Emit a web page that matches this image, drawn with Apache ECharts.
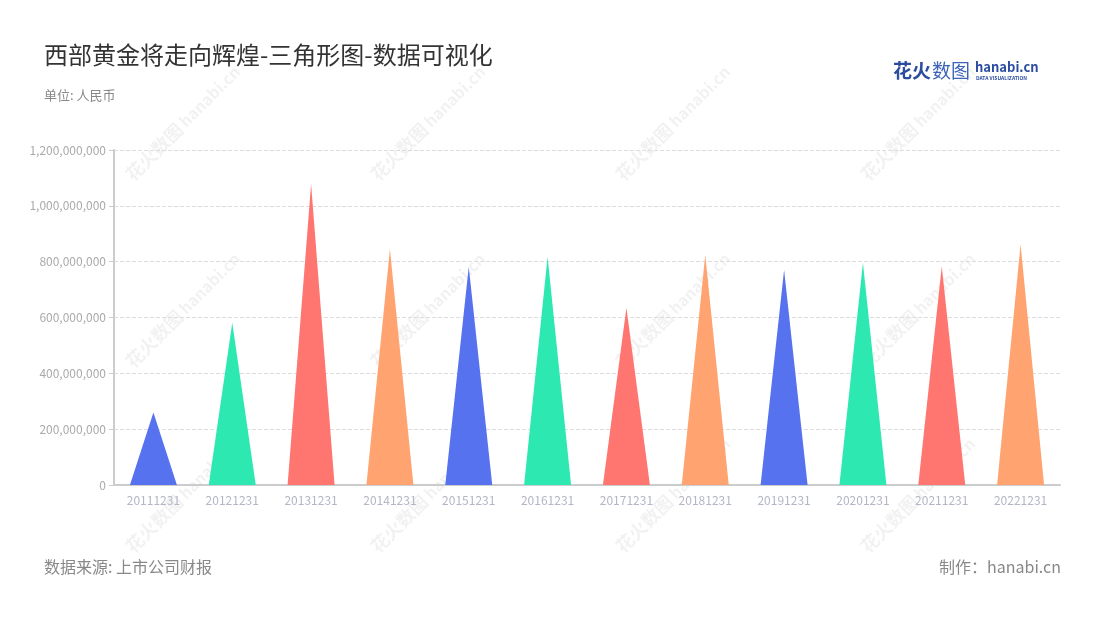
<!DOCTYPE html>
<html>
<head>
<meta charset="utf-8">
<script src="https://cdn.jsdelivr.net/npm/echarts@6/dist/echarts.min.js"></script>
<style>html,body{margin:0;padding:0;background:#fff;}#main{width:1100px;height:620px;}</style>
</head>
<body>
<div id="main"></div>
<script>
const categories = ['20111231','20121231','20131231','20141231','20151231','20161231','20171231','20181231','20191231','20201231','20211231','20221231'];
const values = [260000000, 581000000, 1078000000, 845000000, 782000000, 818000000, 635000000, 824000000, 770000000, 796000000, 784000000, 862000000];
const palette = ['#5672EE', '#2DE9B1', '#FF7671', '#FFA470'];
const yTicks = { min: 0, max: 1200000000, interval: 200000000 };

const FONT = '"Noto Sans CJK SC", "Noto Sans", sans-serif';
const chart = echarts.init(document.getElementById('main'));

const watermarks = [];
const wmX = [183, 428, 673, 918];
const wmY = [123, 310, 495];
wmY.forEach(function (y) {
  wmX.forEach(function (x) {
    watermarks.push({
      type: 'text', x: x, y: y, rotation: Math.PI / 4, z: 0, silent: true,
      style: {
        text: '{a|花火数图} {b|hanabi.cn}',
        align: 'center', verticalAlign: 'middle',
        rich: {
          a: { fontSize: 18, fontWeight: 'bold', fill: 'rgba(0,0,0,0.055)', fontFamily: FONT },
          b: { fontSize: 16, fontWeight: 'bold', fill: 'rgba(0,0,0,0.055)', fontFamily: FONT }
        }
      }
    });
  });
});

const option = {
  backgroundColor: '#fff',
  title: [
    { text: '西部黄金将走向辉煌-三角形图-数据可视化', left: 39, top: 38,
      textStyle: { fontSize: 24, fontWeight: 'normal', color: '#333', fontFamily: FONT } },
    { text: '单位: 人民币', left: 39, top: 84,
      textStyle: { fontSize: 13, fontWeight: 'normal', color: '#888', fontFamily: FONT } },
    { text: '数据来源: 上市公司财报', left: 39, top: 554,
      textStyle: { fontSize: 16, fontWeight: 'normal', color: '#888', fontFamily: FONT } },
    { text: '制作：hanabi.cn', right: 34, top: 554,
      textStyle: { fontSize: 16, fontWeight: 'normal', color: '#888', fontFamily: FONT } }
  ],
  graphic: watermarks.concat([
    { type: 'text', left: 893, top: 61, z: 10,
      style: { text: '花火', fontSize: 19, fontWeight: 'bold', fill: '#2B4C9F', fontFamily: FONT } },
    { type: 'text', left: 932, top: 61, z: 10,
      style: { text: '数图', fontSize: 19, fontWeight: 'normal', fill: '#3C63B8', fontFamily: FONT } },
    { type: 'text', left: 975, top: 61, z: 10,
      style: { text: 'hanabi.cn', fontSize: 13, fontWeight: 'bold', fill: '#2B4C9F', fontFamily: FONT } },
    { type: 'text', left: 976, top: 76, z: 10,
      style: { text: 'DATA VISUALIZATION', fontSize: 5, fontWeight: 'bold', fill: '#2B4C9F', fontFamily: FONT } }
  ]),
  grid: { left: 114, right: 40, top: 150, bottom: 135 },
  xAxis: {
    type: 'category',
    data: categories,
    axisLine: { lineStyle: { color: '#cccccc', width: 2 } },
    axisTick: { alignWithLabel: true, length: 5, lineStyle: { color: '#aaa' } },
    axisLabel: { color: '#b3b6c4', fontSize: 12, margin: 9, fontFamily: FONT }
  },
  yAxis: {
    type: 'value',
    min: yTicks.min, max: yTicks.max, interval: yTicks.interval,
    axisLine: { show: true, lineStyle: { color: '#cccccc', width: 2 } },
    axisTick: { show: true, length: 5, lineStyle: { color: '#cccccc' } },
    axisLabel: { color: '#aaaaaa', fontSize: 12, fontFamily: FONT,
      formatter: function (v) { return v.toLocaleString('en-US'); } },
    splitLine: { lineStyle: { type: 'dashed', color: '#dddddd' } }
  },
  series: [{
    type: 'pictorialBar',
    symbol: 'path://M0,100 L50,0 L100,100 Z',
    symbolSize: [47, '100%'],
    barCategoryGap: '0%',
    data: values.map(function (v, i) {
      return { value: v, itemStyle: { color: palette[i % palette.length] } };
    }),
    z: 5
  }]
};
chart.setOption(option);
</script>
</body>
</html>
